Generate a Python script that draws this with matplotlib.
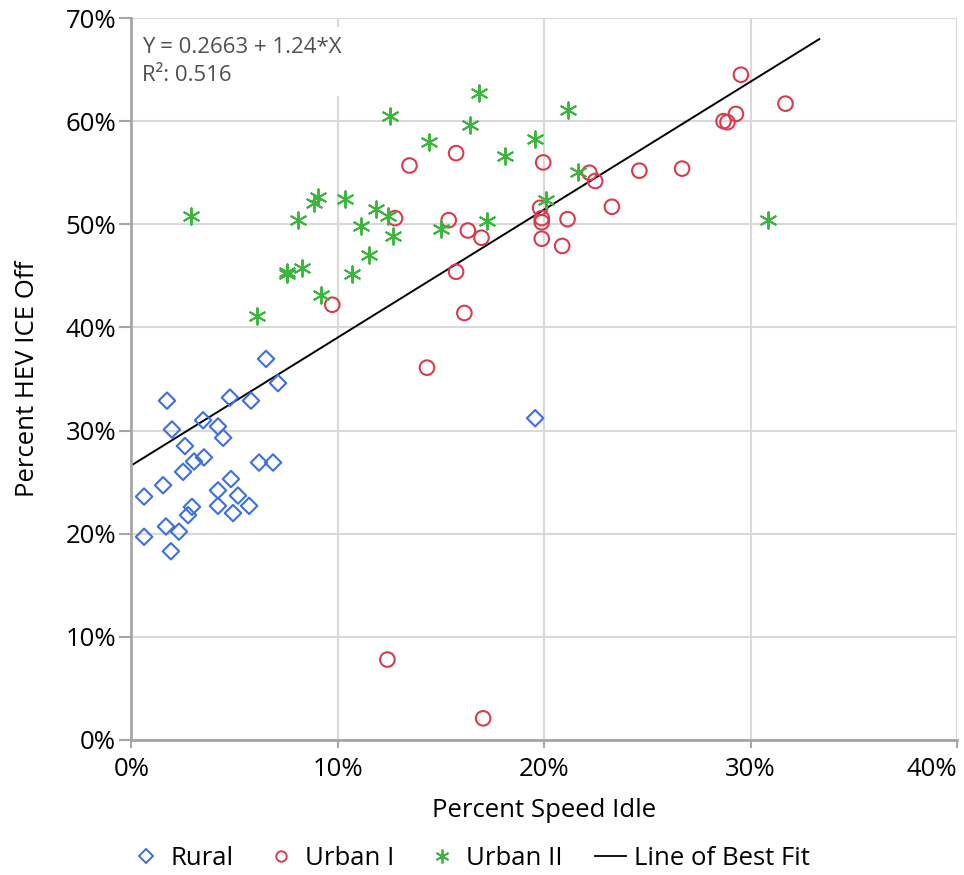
import numpy as np
import matplotlib.pyplot as plt
from matplotlib.lines import Line2D
from matplotlib.ticker import PercentFormatter

plt.rcParams['font.family'] = ['Open Sans', 'DejaVu Sans']

# percent speed idle (x) and percent HEV ICE off (y), in percent
rural_x = [6.52, 7.10, 1.72, 4.77, 5.79, 3.47, 1.96, 4.19, 4.44, 2.59,
           3.03, 3.51, 2.50, 6.18, 6.86, 4.82, 1.53, 0.61, 4.19, 5.16,
           2.93, 2.74, 4.19, 5.70, 4.92, 1.67, 2.30, 0.61, 1.91, 19.56]
rural_y = [36.95, 34.6, 32.9, 33.2, 32.9, 31.0, 30.1, 30.4, 29.3, 28.5,
           27.0, 27.4, 26.0, 26.9, 26.9, 25.3, 24.7, 23.6, 24.2, 23.7,
           22.6, 21.8, 22.7, 22.7, 22.0, 20.7, 20.2, 19.7, 18.3, 31.2]

urban1_x = [29.53, 31.69, 29.29, 28.69, 28.88, 15.73, 13.47, 19.95, 22.19, 22.47,
            24.61, 26.68, 23.28, 19.80, 19.88, 19.88, 21.13, 19.88, 20.87, 15.37,
            12.77, 16.30, 16.96, 15.73, 16.13, 9.73, 14.32, 12.40, 17.04]
urban1_y = [64.5, 61.7, 60.7, 60.0, 59.9, 56.9, 55.7, 56.0, 55.0, 54.2,
            55.2, 55.4, 51.7, 51.6, 50.6, 50.2, 50.5, 48.6, 47.9, 50.4,
            50.6, 49.4, 48.7, 45.4, 41.4, 42.2, 36.1, 7.8, 2.1]

urban2_x = [2.87, 6.10, 7.52, 7.52, 8.09, 8.28, 8.85, 9.02, 9.19, 10.35,
            10.67, 11.11, 11.51, 11.85, 12.45, 12.69, 12.53, 14.44, 15.00, 16.41,
            16.84, 17.25, 18.09, 19.56, 20.08, 21.17, 21.66, 30.82]
urban2_y = [50.8, 41.1, 45.4, 45.2, 50.4, 45.8, 52.1, 52.6, 43.1, 52.5,
            45.2, 49.8, 47.0, 51.5, 50.8, 48.9, 60.5, 58.0, 49.5, 59.6,
            62.7, 50.3, 56.6, 58.3, 52.4, 61.1, 55.1, 50.4]

intercept = 0.2663
slope = 1.24
r2 = 0.516
fit_x_end = 0.3333

blue = '#3d6fe0'
red = '#d93a4e'
green = '#3ab53e'

fig = plt.figure(figsize=(9.64, 8.75), dpi=100)
ax = fig.add_axes([0.1364, 0.1543, 0.8563, 0.8251])

ax.scatter(np.array(rural_x) / 100, np.array(rural_y) / 100, marker='D', s=70,
           facecolors='none', edgecolors=blue, linewidths=1.5, zorder=3)
ax.scatter(np.array(urban1_x) / 100, np.array(urban1_y) / 100, marker='o', s=110,
           facecolors='none', edgecolors=red, linewidths=1.5, zorder=3)
ax.scatter(np.array(urban2_x) / 100, np.array(urban2_y) / 100, marker=(6, 2, 0), s=140,
           color=green, linewidths=1.4, zorder=3)

fx = np.array([0, fit_x_end])
ax.plot(fx, intercept + slope * fx, color='black', lw=1.4, zorder=2)

ax.set_xlim(0, 0.4)
ax.set_ylim(0, 0.7)
ax.set_xticks(np.arange(0, 0.41, 0.1))
ax.set_yticks(np.arange(0, 0.71, 0.1))
ax.xaxis.set_major_formatter(PercentFormatter(1.0, decimals=0))
ax.yaxis.set_major_formatter(PercentFormatter(1.0, decimals=0))
ax.grid(True, color='#d9d9d9', lw=1.5, zorder=0)
ax.set_axisbelow(True)

for s in ['top', 'right']:
    ax.spines[s].set_visible(False)
for s in ['left', 'bottom']:
    ax.spines[s].set_color('#a6a6a6')
    ax.spines[s].set_linewidth(2)
ax.tick_params(axis='both', colors='#a6a6a6', width=1.5, labelsize=18.5,
               labelcolor='black')
ax.tick_params(axis='y', length=9, pad=2)
ax.tick_params(axis='x', length=6, pad=6)

# keep the last x label inside the figure
fig.canvas.draw()
ax.get_xticklabels()[-1].set_horizontalalignment('right')
ax.get_xticklabels()[-1].set_x(0.4)

ax.set_xlabel('Percent Speed Idle', fontsize=18.5, labelpad=12)
ax.set_ylabel('Percent HEV ICE Off', fontsize=18.5, labelpad=18)

# fit equation box sits over the grid but under the spines
ax.text(0.005, 0.682, f'Y = {intercept} + {slope}*X\nR\u00b2: {r2}', fontsize=16,
        color='#505050', va='top', ha='left', linespacing=1.45, zorder=2.4,
        bbox=dict(facecolor='white', edgecolor='none', pad=7))

handles = [
    Line2D([], [], marker='D', ls='none', mfc='none', mec=blue, ms=7.5, mew=1.4),
    Line2D([], [], marker='o', ls='none', mfc='none', mec=red, ms=7.5, mew=1.4),
    Line2D([], [], marker=(6, 2, 0), ls='none', color=green, ms=10, mew=1.3),
    Line2D([], [], color='black', lw=1.3),
]
fig.legend(handles, ['Rural', 'Urban I', 'Urban II', 'Line of Best Fit'],
           loc='center', bbox_to_anchor=(0.488, 0.019), ncol=4, frameon=False,
           fontsize=18.5, handlelength=1.2, handletextpad=0.33, columnspacing=1.26)

fig.savefig('out.png', dpi=100)
